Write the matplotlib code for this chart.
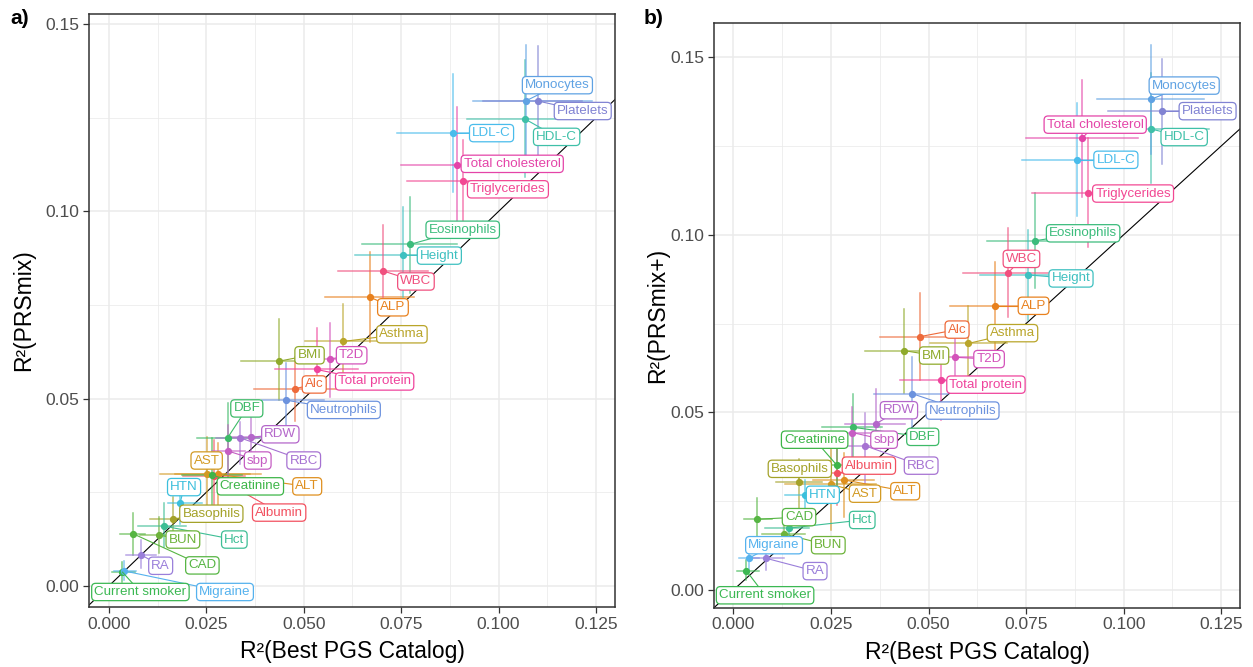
import numpy as np
import matplotlib
matplotlib.use('Agg')
import matplotlib.pyplot as plt

plt.rcParams['font.family'] = ['Liberation Sans', 'DejaVu Sans']

traits = ["Albumin", "Alc", "ALP", "ALT", "AST", "Asthma", "Basophils", "BMI", "BUN", "CAD",
          "Creatinine", "Current smoker", "DBF", "Eosinophils", "Hct", "HDL-C", "Height", "HTN",
          "LDL-C", "Migraine", "Monocytes", "Neutrophils", "Platelets", "RA", "RBC", "RDW", "sbp",
          "T2D", "Total cholesterol", "Total protein", "Triglycerides", "WBC"]

# panel a: R2 best PGS catalog (x) vs R2 PRSmix (y), with CI bounds
a_x = [0.0270, 0.0478, 0.0670, 0.0281, 0.0252, 0.0602, 0.0165, 0.0436, 0.0128, 0.0061,
       0.0264, 0.0035, 0.0305, 0.0773, 0.0141, 0.1069, 0.0754, 0.0183, 0.0882, 0.0040,
       0.1070, 0.0455, 0.1100, 0.0083, 0.0336, 0.0364, 0.0307, 0.0568, 0.0894, 0.0533,
       0.0909, 0.0704]
a_xlo = [0.0190, 0.0373, 0.0554, 0.0170, 0.0131, 0.0503, 0.0105, 0.0339, 0.0080, 0.0028,
         0.0187, 0.0007, 0.0225, 0.0649, 0.0075, 0.0920, 0.0631, 0.0151, 0.0740, 0.0012,
         0.0934, 0.0394, 0.0960, 0.0045, 0.0275, 0.0310, 0.0265, 0.0508, 0.0750, 0.0426,
         0.0764, 0.0589]
a_xhi = [0.0350, 0.0583, 0.0783, 0.0390, 0.0362, 0.0701, 0.0225, 0.0533, 0.0180, 0.0092,
         0.0341, 0.0067, 0.0388, 0.0893, 0.0199, 0.1218, 0.0877, 0.0238, 0.1024, 0.0070,
         0.1239, 0.0553, 0.1213, 0.0120, 0.0385, 0.0420, 0.0350, 0.0628, 0.1038, 0.0640,
         0.1054, 0.0820]
a_y = [0.0294, 0.0527, 0.0771, 0.0298, 0.0298, 0.0653, 0.0179, 0.0600, 0.0136, 0.0140,
       0.0296, 0.0037, 0.0396, 0.0912, 0.0160, 0.1246, 0.0883, 0.0222, 0.1208, 0.0040,
       0.1295, 0.0496, 0.1295, 0.0083, 0.0396, 0.0397, 0.0360, 0.0606, 0.1123, 0.0578,
       0.1081, 0.0841]
a_ylo = [0.0200, 0.0440, 0.0652, 0.0203, 0.0194, 0.0553, 0.0141, 0.0496, 0.0087, 0.0083,
         0.0200, 0.0011, 0.0292, 0.0782, 0.0105, 0.1092, 0.0772, 0.0165, 0.1051, 0.0015,
         0.1146, 0.0425, 0.1150, 0.0048, 0.0327, 0.0345, 0.0290, 0.0505, 0.0968, 0.0523,
         0.0970, 0.0772]
a_yhi = [0.0390, 0.0610, 0.0892, 0.0381, 0.0399, 0.0754, 0.0238, 0.0712, 0.0185, 0.0194,
         0.0396, 0.0065, 0.0488, 0.1039, 0.0221, 0.1404, 0.1012, 0.0280, 0.1366, 0.0068,
         0.1444, 0.0594, 0.1441, 0.0123, 0.0439, 0.0452, 0.0430, 0.0701, 0.1278, 0.0689,
         0.1190, 0.0963]

# panel b: R2 best PGS catalog (x) vs R2 PRSmix+ (y)
b_x = [0.0266, 0.0477, 0.0669, 0.0282, 0.0251, 0.0602, 0.0167, 0.0436, 0.0129, 0.0061,
       0.0265, 0.0033, 0.0306, 0.0772, 0.0142, 0.1069, 0.0754, 0.0183, 0.0881, 0.0040,
       0.1070, 0.0457, 0.1099, 0.0084, 0.0337, 0.0364, 0.0305, 0.0568, 0.0893, 0.0533,
       0.0908, 0.0704]
b_xlo = [0.0190, 0.0375, 0.0554, 0.0205, 0.0133, 0.0504, 0.0108, 0.0338, 0.0073, 0.0028,
         0.0185, 0.0009, 0.0227, 0.0650, 0.0082, 0.0920, 0.0632, 0.0133, 0.0739, 0.0015,
         0.0931, 0.0361, 0.0961, 0.0048, 0.0261, 0.0287, 0.0235, 0.0510, 0.0750, 0.0426,
         0.0766, 0.0588]
b_xhi = [0.0340, 0.0579, 0.0784, 0.0359, 0.0364, 0.0700, 0.0227, 0.0534, 0.0184, 0.0099,
         0.0345, 0.0065, 0.0381, 0.0885, 0.0193, 0.1218, 0.0876, 0.0233, 0.1023, 0.0065,
         0.1206, 0.0550, 0.1237, 0.0129, 0.0406, 0.0440, 0.0375, 0.0626, 0.1036, 0.0640,
         0.1050, 0.0820]
b_y = [0.0328, 0.0713, 0.0800, 0.0310, 0.0297, 0.0694, 0.0304, 0.0674, 0.0158, 0.0199,
       0.0351, 0.0054, 0.0458, 0.0983, 0.0174, 0.1298, 0.0887, 0.0267, 0.1211, 0.0090,
       0.1381, 0.0553, 0.1347, 0.0089, 0.0406, 0.0467, 0.0443, 0.0655, 0.1271, 0.0590,
       0.1117, 0.0893]
b_ylo = [0.0240, 0.0591, 0.0675, 0.0205, 0.0169, 0.0600, 0.0216, 0.0555, 0.0118, 0.0150,
         0.0290, 0.0028, 0.0375, 0.0849, 0.0130, 0.1145, 0.0760, 0.0225, 0.1053, 0.0060,
         0.1228, 0.0460, 0.1199, 0.0056, 0.0300, 0.0403, 0.0370, 0.0605, 0.1107, 0.0478,
         0.0966, 0.0768]
b_yhi = [0.0420, 0.0835, 0.0924, 0.0385, 0.0420, 0.0799, 0.0368, 0.0790, 0.0198, 0.0258,
         0.0408, 0.0084, 0.0553, 0.1117, 0.0220, 0.1454, 0.1013, 0.0310, 0.1370, 0.0120,
         0.1534, 0.0657, 0.1494, 0.0108, 0.0497, 0.0565, 0.0515, 0.0727, 0.1435, 0.0657,
         0.1271, 0.1018]

# where the repelled labels ended up (data coords)
a_lab = {"Monocytes": (0.1151, 0.1337), "Platelets": (0.1216, 0.1268), "LDL-C": (0.0982, 0.1209),
         "HDL-C": (0.1149, 0.1199), "Total cholesterol": (0.1035, 0.1127),
         "Triglycerides": (0.1024, 0.1059), "Eosinophils": (0.0908, 0.0951),
         "Height": (0.0848, 0.0882), "WBC": (0.0788, 0.0813), "ALP": (0.0729, 0.0744),
         "Asthma": (0.0752, 0.0672), "BMI": (0.0515, 0.0616), "T2D": (0.0623, 0.0616),
         "Total protein": (0.0682, 0.0546), "Alc": (0.0527, 0.0538),
         "Neutrophils": (0.0603, 0.0470), "DBF": (0.0354, 0.0474), "RDW": (0.0440, 0.0405),
         "AST": (0.0251, 0.0335), "sbp": (0.0382, 0.0335), "RBC": (0.0500, 0.0335),
         "HTN": (0.0193, 0.0264), "Creatinine": (0.0363, 0.0266), "ALT": (0.0509, 0.0266),
         "Basophils": (0.0263, 0.0193), "Albumin": (0.0437, 0.0196), "BUN": (0.0190, 0.0124),
         "Hct": (0.0322, 0.0124), "RA": (0.0133, 0.0054), "CAD": (0.0240, 0.0055),
         "Current smoker": (0.0081, -0.0016), "Migraine": (0.0298, -0.0016)}
b_lab = {"Monocytes": (0.1155, 0.1420), "Platelets": (0.1215, 0.1348),
         "Total cholesterol": (0.0927, 0.1310), "HDL-C": (0.1155, 0.1275),
         "LDL-C": (0.0980, 0.1211), "Triglycerides": (0.1024, 0.1116),
         "Eosinophils": (0.0896, 0.1004), "WBC": (0.0738, 0.0932), "Height": (0.0865, 0.0877),
         "ALP": (0.0769, 0.0800), "Alc": (0.0573, 0.0733), "Asthma": (0.0715, 0.0723),
         "BMI": (0.0514, 0.0660), "T2D": (0.0655, 0.0650), "Total protein": (0.0647, 0.0578),
         "Neutrophils": (0.0587, 0.0505), "RDW": (0.0424, 0.0506), "sbp": (0.0386, 0.0423),
         "DBF": (0.0485, 0.0431), "Creatinine": (0.0208, 0.0423), "Albumin": (0.0347, 0.0350),
         "RBC": (0.0481, 0.0350), "Basophils": (0.0170, 0.0341), "HTN": (0.0229, 0.0268),
         "AST": (0.0337, 0.0271), "ALT": (0.0440, 0.0278), "CAD": (0.0168, 0.0205),
         "Hct": (0.0330, 0.0197), "Migraine": (0.0104, 0.0126), "BUN": (0.0243, 0.0126),
         "RA": (0.0209, 0.0053), "Current smoker": (0.0081, -0.0015)}

# one colour per trait, same order as traits (hue wheel, muted as in the print)
palette = ["#F2505F", "#EE6A3A", "#E8811E", "#DF8F1E", "#D29A23", "#B9A52A", "#A4A229",
           "#8FAA2B", "#6DB33A", "#56B543", "#3DB548", "#3BB852", "#3DBA68", "#3CBC7C",
           "#3DBE95", "#3FC0A8", "#3EC0C0", "#3BBFDC", "#49BCEB", "#55B2EE", "#5FA2E3",
           "#6C92DE", "#8183D3", "#9A7FDA", "#A672D2", "#B467CA", "#C55DC3", "#D352BA",
           "#E444A8", "#EF439C", "#F24893", "#F0507E"]
colors = dict(zip(traits, palette))


def draw_panel(ax, xs, xlo, xhi, ys, ylo, yhi, labs, xlim, ylim, ylab, ypad):
    ax.set_facecolor('white')
    for i, t in enumerate(traits):
        col = colors[t]
        ax.plot([xlo[i], xhi[i]], [ys[i], ys[i]], color=col, lw=1.1, alpha=0.7, zorder=3)
        ax.plot([xs[i], xs[i]], [ylo[i], yhi[i]], color=col, lw=1.1, alpha=0.7, zorder=3)
        ax.plot(xs[i], ys[i], 'o', color=col, ms=4.2, zorder=4)
        lx, ly = labs[t]
        ax.plot([xs[i], lx], [ys[i], ly], color=col, lw=0.8, zorder=5)
        ax.text(lx, ly, t, color=col, fontsize=9.6, ha='center', va='center', zorder=6,
                bbox=dict(boxstyle='round,pad=0.2,rounding_size=0.3', fc='white', ec=col, lw=0.9))
    ax.plot([-1, 1], [-1, 1], color='black', lw=0.8, zorder=2)
    ax.set_xlim(*xlim)
    ax.set_ylim(*ylim)
    ax.set_xticks([0, 0.025, 0.05, 0.075, 0.1, 0.125])
    ax.set_xticklabels(['0.000', '0.025', '0.050', '0.075', '0.100', '0.125'])
    ax.set_xticks(np.arange(0.0125, 0.13, 0.025), minor=True)
    ax.set_yticks([0, 0.05, 0.1, 0.15])
    ax.set_yticklabels(['0.00', '0.05', '0.10', '0.15'])
    ax.set_yticks([0.025, 0.075, 0.125], minor=True)
    ax.grid(which='major', color='#ebebeb', lw=1.1, zorder=0)
    ax.grid(which='minor', color='#ebebeb', lw=0.55, zorder=0)
    ax.set_axisbelow(True)
    ax.tick_params(which='minor', length=0)
    ax.tick_params(which='major', length=4, width=0.9, color='#333333', labelsize=12.5,
                   labelcolor='#4d4d4d', pad=3)
    for s in ax.spines.values():
        s.set_color('#333333')
        s.set_linewidth(1.1)
    ax.set_xlabel('R²(Best PGS Catalog)', fontsize=16.5, labelpad=6)
    ax.set_ylabel(ylab, fontsize=16.5, labelpad=ypad)


fig = plt.figure(figsize=(12.53, 6.67), dpi=100)
ax1 = fig.add_axes([0.0710, 0.0900, 0.4202, 0.8890])
ax2 = fig.add_axes([0.5698, 0.0889, 0.4198, 0.8760])

draw_panel(ax1, a_x, a_xlo, a_xhi, a_y, a_ylo, a_yhi, a_lab,
           (-0.0051, 0.1300), (-0.0056, 0.1527), 'R²(PRSmix)', 7)
draw_panel(ax2, b_x, b_xlo, b_xhi, b_y, b_ylo, b_yhi, b_lab,
           (-0.0050, 0.1298), (-0.0050, 0.1595), 'R²(PRSmix+)', 1)

fig.text(0.008, 0.972, 'a)', fontsize=15, fontweight='bold', va='center')
fig.text(0.514, 0.972, 'b)', fontsize=15, fontweight='bold', va='center')

fig.savefig('out.png', dpi=100)
